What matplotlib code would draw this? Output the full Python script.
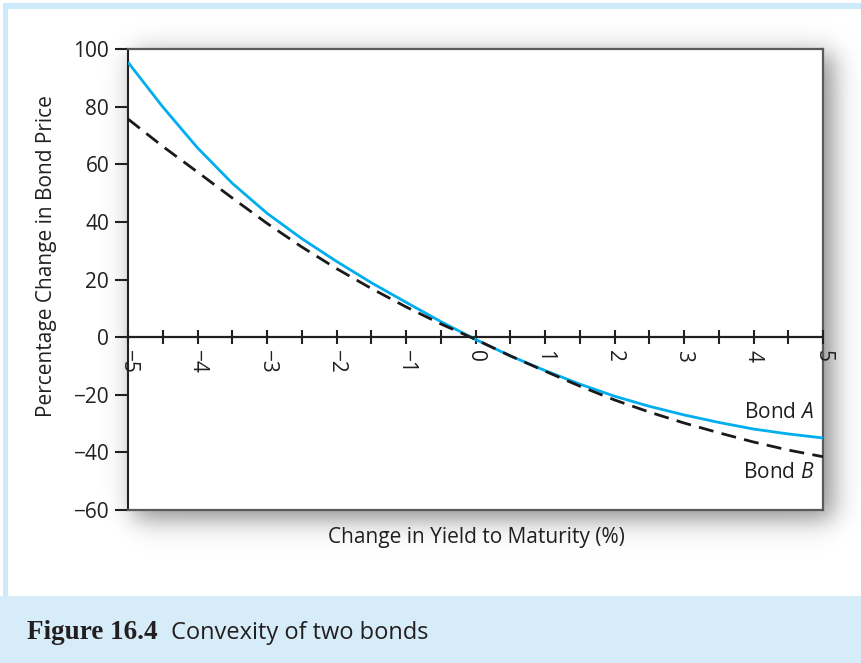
import numpy as np
import matplotlib
matplotlib.use('Agg')
import matplotlib.pyplot as plt
from matplotlib import transforms
from matplotlib.patches import Rectangle

# ---------------- data ----------------
yield_change = [-5.0, -4.5, -4.0, -3.5, -3.0, -2.5, -2.0, -1.5, -1.0, -0.5, 0.0,
                0.5, 1.0, 1.5, 2.0, 2.5, 3.0, 3.5, 4.0, 4.5, 5.0]
bond_a = [95.4, 79.9, 65.7, 53.4, 43.0, 34.2, 26.3, 18.9, 12.1, 5.4, -0.8,
          -6.5, -11.6, -16.3, -20.5, -24.0, -27.0, -29.6, -31.9, -33.6, -35.0]
bond_b = [75.7, 66.2, 57.3, 48.3, 39.5, 31.3, 23.8, 16.9, 10.5, 4.6, -0.8,
          -6.5, -11.8, -17.0, -21.8, -26.0, -29.8, -33.2, -36.4, -39.2, -41.5]
x_major_ticks = [-5, -4, -3, -2, -1, 0, 1, 2, 3, 4, 5]
x_minor_ticks = [-5, -4.5, -4, -3.5, -3, -2.5, -2, -1.5, -1, -0.5, 0,
                 0.5, 1, 1.5, 2, 2.5, 3, 3.5, 4, 4.5, 5]
y_ticks = [100, 80, 60, 40, 20, 0, -20, -40, -60]
series_labels = ["Bond $\\mathit{A}$", "Bond $\\mathit{B}$"]
xlabel = "Change in Yield to Maturity (%)"
ylabel = "Percentage Change in Bond Price"
caption_num = "Figure 16.4"
caption_text = "Convexity of two bonds"

# ---------------- style ----------------
plt.rcParams['font.family'] = ['Open Sans', 'DejaVu Sans']
plt.rcParams['mathtext.fontset'] = 'custom'
plt.rcParams['mathtext.rm'] = 'Open Sans'
plt.rcParams['mathtext.it'] = 'Open Sans:italic'

TXT = '#231f20'
BLUE = '#00aeef'
FS = 15
W, H = 861, 663
fig = plt.figure(figsize=(W / 100, H / 100), dpi=100)
fig.patch.set_facecolor('white')

# background axes in pixel coordinates
bg = fig.add_axes([0, 0, 1, 1], zorder=0)
bg.set_xlim(0, W)
bg.set_ylim(H, 0)
bg.axis('off')

border_c = '#cdeafa'
bg.add_patch(Rectangle((3, 3), W - 3, 6, color=border_c, lw=0))
bg.add_patch(Rectangle((3, 3), 5, 596 - 3, color=border_c, lw=0))
bg.add_patch(Rectangle((0, 596), W, 67, color='#d6ecf9', lw=0))

# soft drop shadow behind the plotting panel
yy, xx = np.mgrid[0:H, 0:W] + 0.5
def cdf(z):
    return 1.0 / (1.0 + np.exp(-1.702 * z))
s = 13.0
x0, x1, y0, y1 = 128 + 6, 823 + 10, 49 + 5, 510 + 9
alpha = (cdf((xx - x0) / s) - cdf((xx - x1) / s)) * (cdf((yy - y0) / s) - cdf((yy - y1) / s)) * 0.45
alpha[596:, :] = 0
img = np.zeros((H, W, 4))
img[..., 3] = alpha
bg.imshow(img, extent=[0, W, H, 0], zorder=1, interpolation='bilinear', aspect='auto')

# main axes
ax = fig.add_axes([128 / W, 1 - 510 / H, 695 / W, 461 / H], zorder=2)
ax.set_facecolor('white')
ax.set_xlim(-5, 5)
ax.set_ylim(-60, 100)

for side in ['top', 'right', 'bottom']:
    ax.spines[side].set_color('#5a5a5a')
    ax.spines[side].set_linewidth(1.6)
ax.spines['left'].set_color(TXT)
ax.spines['left'].set_linewidth(1.5)

ax.set_xticks([])
ax.set_yticks(y_ticks)
ax.tick_params(axis='y', direction='out', length=9.5, width=1.5, color=TXT,
               labelsize=FS, labelcolor=TXT, pad=4)

# zero axis with crossing ticks
ax.axhline(0, color=TXT, lw=1.6, zorder=3)
ax.plot(x_minor_ticks, [0] * len(x_minor_ticks), linestyle='none', marker='|',
        markersize=10, mew=1.5, color=TXT, clip_on=False, zorder=3)
off = transforms.offset_copy(ax.transData, fig=fig, x=0, y=-13, units='dots')
for v in x_major_ticks:
    ax.text(v, 0, f"{v:d}".replace('-', '\u2212'), rotation=270, ha='center', va='top',
            fontsize=FS, color=TXT, transform=off)

# curves
ax.plot(yield_change, bond_a, color=BLUE, lw=2.0, zorder=4, solid_capstyle='butt')
ax.plot(yield_change, bond_b, color='#1a1a1a', lw=2.0, dashes=(5.4, 3.0), zorder=5)

ax.text(4.87, -26.0, series_labels[0], ha='right', va='center', fontsize=FS, color=TXT)
ax.text(4.87, -47.0, series_labels[1], ha='right', va='center', fontsize=FS, color=TXT)

# axis labels
fig.text(47 / W, 1 - 256 / H, ylabel, rotation=90, ha='center', va='center',
         fontsize=FS, color=TXT)
fig.text(476 / W, 1 - 537 / H, xlabel, ha='center', va='center', fontsize=FS, color=TXT)

# caption
fig.text(27 / W, 1 - 639 / H, caption_num, ha='left', va='baseline', fontsize=19.5,
         fontweight='bold', family=['Liberation Serif', 'DejaVu Serif'], color=TXT)
fig.text(171 / W, 1 - 639 / H, caption_text, ha='left', va='baseline', fontsize=17,
         color=TXT)

fig.savefig('out.png', dpi=100)
